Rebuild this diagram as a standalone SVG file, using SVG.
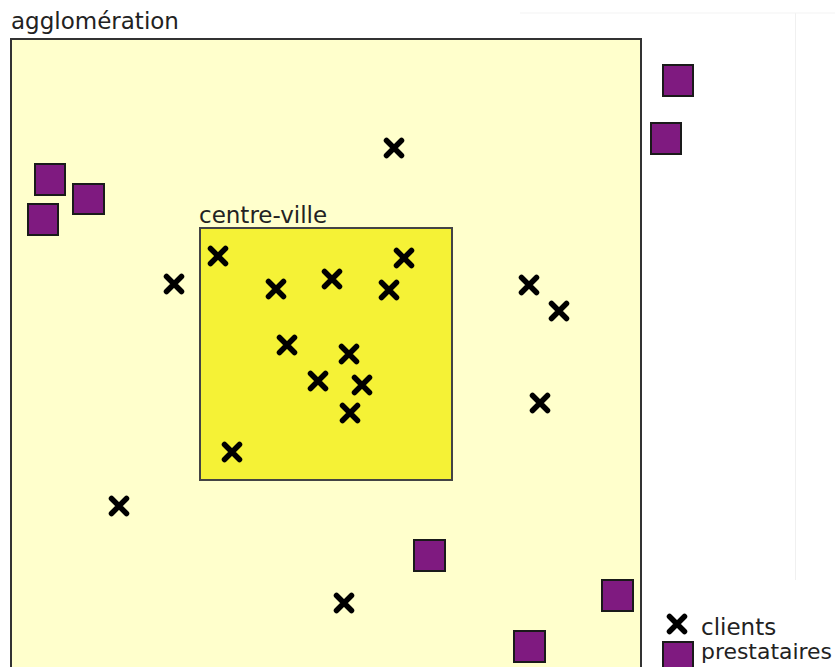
<svg xmlns="http://www.w3.org/2000/svg" width="835" height="667" viewBox="0 0 835 667">
<defs>
<style>
.lbl{font-family:"DejaVu Sans","Liberation Sans",sans-serif;font-size:23px;fill:#222;}
.sq{fill:#7f1a80;stroke:#1a1a1a;stroke-width:2;}
.cx{stroke:#000;stroke-width:5.5;stroke-linecap:round;fill:none;}
</style>
<g id="xm"><path class="cx" d="M-7.5,-7.5L7.5,7.5M7.5,-7.5L-7.5,7.5"/></g>
</defs>
<rect width="835" height="667" fill="#fff"/>
<line x1="795.5" y1="13" x2="795.5" y2="580" stroke="#f0f0f0" stroke-width="1"/>
<line x1="520" y1="13" x2="835" y2="13" stroke="#f3f3f3" stroke-width="1"/>
<g id="agglomeration">
<rect x="11" y="39" width="630" height="640" fill="#ffffcc" stroke="#333" stroke-width="2"/>
<text class="lbl" x="11" y="29">agglomération</text>
</g>
<g id="centre-ville">
<rect x="200" y="228" width="252" height="252" fill="#f5f236" stroke="#444" stroke-width="2"/>
<text class="lbl" x="199" y="222.5">centre-ville</text>
</g>
<g id="prestataires">
<rect class="sq" x="35" y="164" width="30" height="31"/>
<rect class="sq" x="73" y="184" width="31" height="30"/>
<rect class="sq" x="28" y="204" width="30" height="31"/>
<rect class="sq" x="663" y="65" width="30" height="31"/>
<rect class="sq" x="651" y="123" width="30" height="31"/>
<rect class="sq" x="414" y="540" width="31" height="31"/>
<rect class="sq" x="602" y="580" width="31" height="31"/>
<rect class="sq" x="514" y="631" width="31" height="31"/>
</g>
<g id="clients">
<use href="#xm" x="394" y="148"/>
<use href="#xm" x="174" y="284"/>
<use href="#xm" x="529" y="285"/>
<use href="#xm" x="559" y="311"/>
<use href="#xm" x="540" y="403"/>
<use href="#xm" x="119" y="506"/>
<use href="#xm" x="344" y="603"/>
<use href="#xm" x="218" y="256"/>
<use href="#xm" x="404" y="258"/>
<use href="#xm" x="276" y="289"/>
<use href="#xm" x="332" y="279"/>
<use href="#xm" x="389" y="290"/>
<use href="#xm" x="287" y="345"/>
<use href="#xm" x="349" y="354"/>
<use href="#xm" x="318" y="381"/>
<use href="#xm" x="362" y="385"/>
<use href="#xm" x="350" y="413"/>
<use href="#xm" x="232" y="452"/>
</g>
<g id="legend">
<use href="#xm" x="677" y="624"/>
<text class="lbl" x="701" y="635">clients</text>
<rect class="sq" x="663" y="642" width="30" height="31"/>
<text class="lbl" x="701" y="659" style="font-size:22px" textLength="131" lengthAdjust="spacingAndGlyphs">prestataires</text>
</g>
</svg>
